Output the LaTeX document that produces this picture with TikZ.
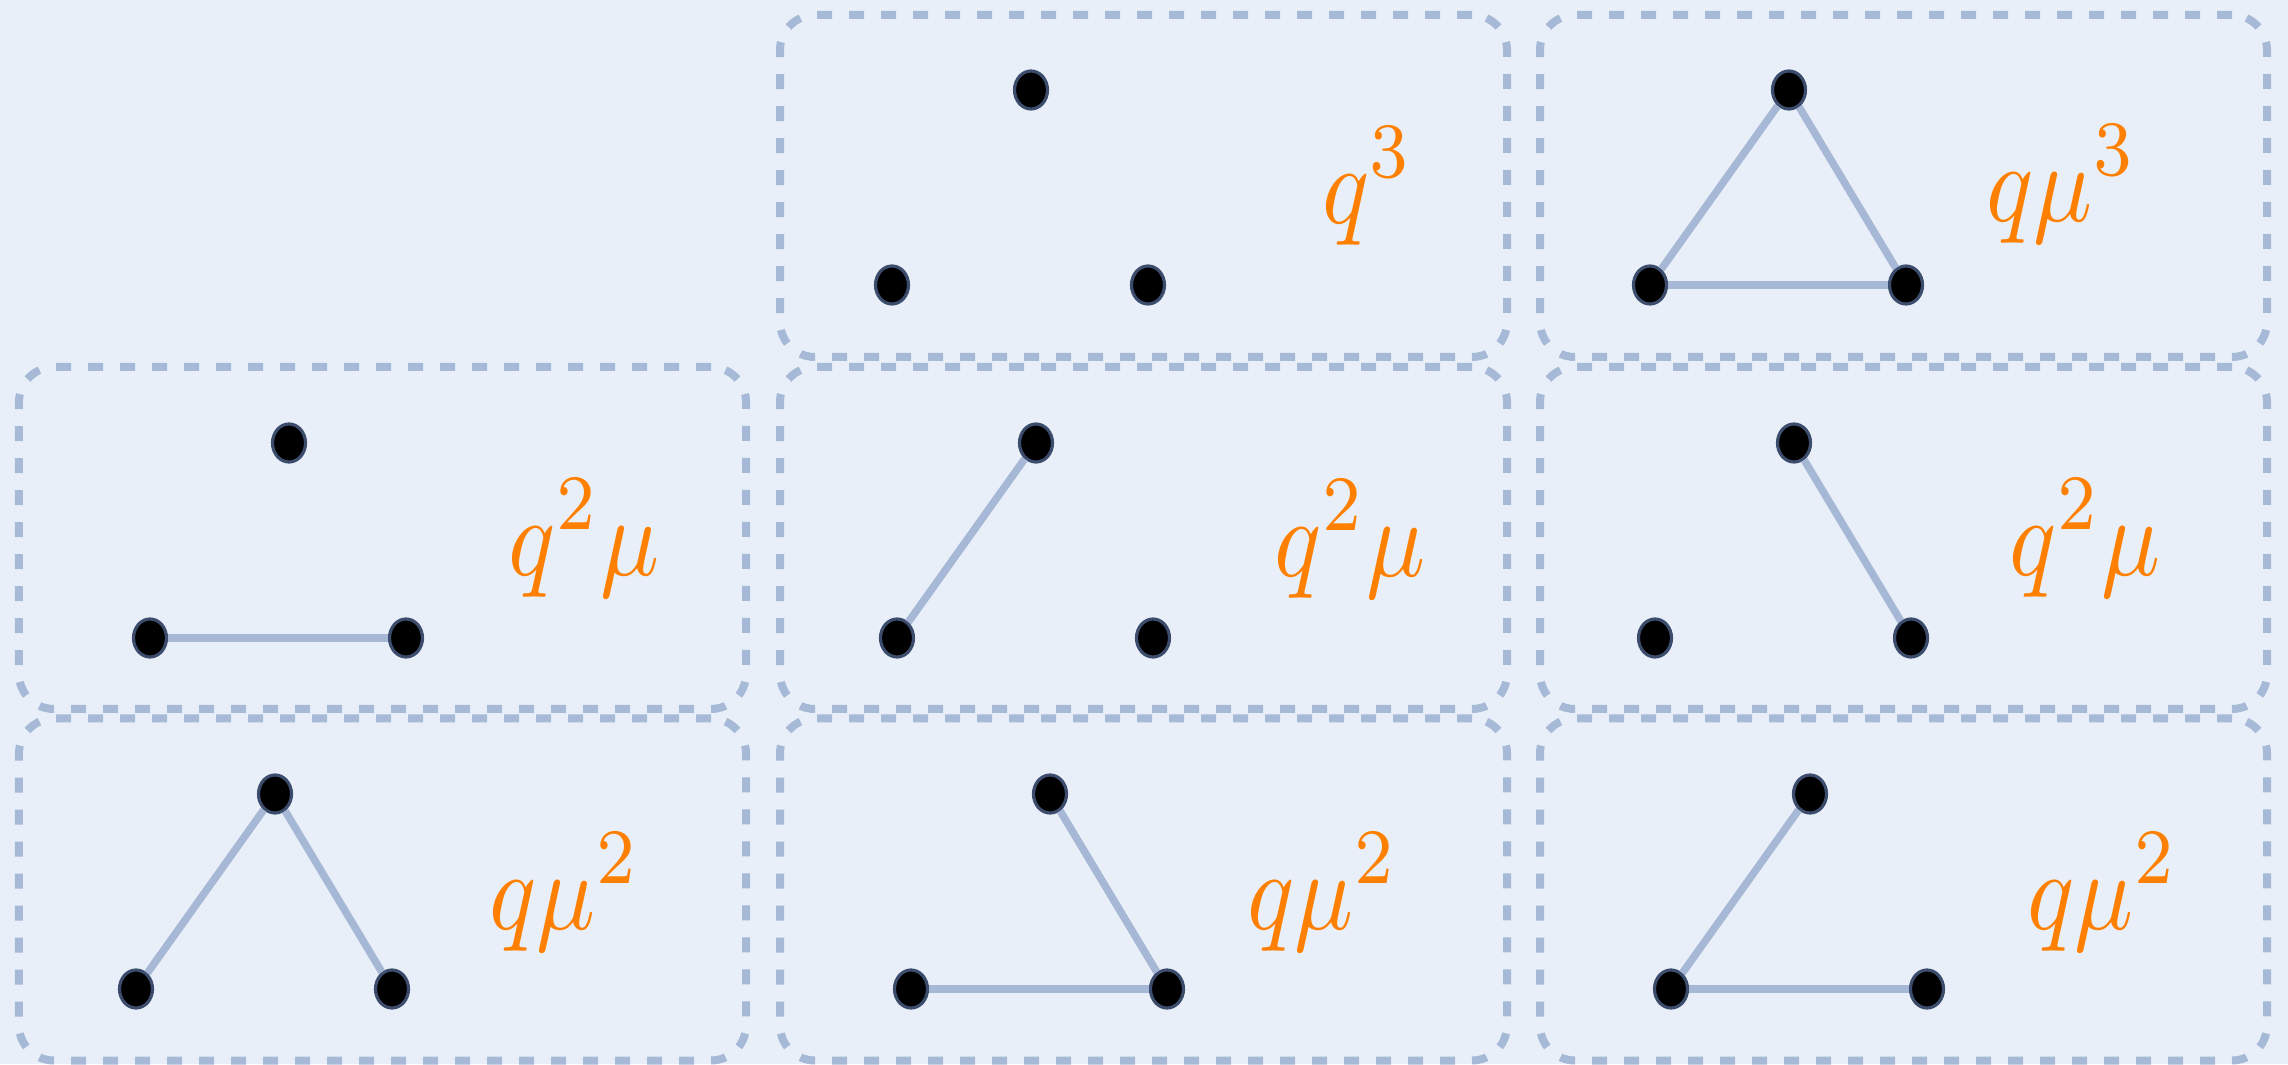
\documentclass[tikz,border=0pt]{standalone}
\usepackage{amsmath}
\usepackage{graphicx}
\usetikzlibrary{positioning, shapes.geometric}
\definecolor{paper}{HTML}{E8EFF8}
\definecolor{frame}{HTML}{A6B9D6}
\definecolor{link}{HTML}{A6B8D5}
\definecolor{rim}{HTML}{3C4C6C}
\definecolor{weightcol}{HTML}{FF8000}
\newcommand{\wlabel}[1]{\scalebox{2.79}[3.19]{$\displaystyle #1$}}

\begin{document}
\begin{tikzpicture}[
  on grid,
  panel/.style={rectangle, draw=frame, line width=0.08cm, dash pattern=on 0.15cm off 0.17cm, rounded corners=0.35cm, minimum width=7.27cm, minimum height=3.42cm},
  dot/.style={ellipse, fill=black, draw=rim, line width=0.9pt, minimum width=0.33cm, minimum height=0.38cm, inner sep=0pt},
  edge/.style={draw=link, line width=0.075cm},
  weight/.style={text=weightcol, inner sep=0pt}
]
  % paper
  \fill[paper] (0,0) rectangle (22.88,10.64);

  % panels
  \node[panel] (p12) at (11.435,8.78) {};
  \node[panel, right=7.6cm of p12] (p13) {};
  \node[panel, below=3.52cm of p12] (p22) {};
  \node[panel, left=7.61cm of p22] (p21) {};
  \node[panel, right=7.6cm of p22] (p23) {};
  \node[panel, below=3.515cm of p21] (p31) {};
  \node[panel, below=3.515cm of p22] (p32) {};
  \node[panel, below=3.515cm of p23] (p33) {};

  % row 1
  \node[dot] (t12) at (10.31,9.74) {};
  \node[dot, below left=1.95cm and 1.39cm of t12] (l12) {};
  \node[dot, below right=1.95cm and 1.17cm of t12] (r12) {};
  \node[weight] (w12) at (13.68,8.78) {\wlabel{q^3}};

  \node[dot] (t13) at (17.89,9.74) {};
  \node[dot, below left=1.95cm and 1.39cm of t13] (l13) {};
  \node[dot, below right=1.95cm and 1.17cm of t13] (r13) {};
  \node[weight] (w13) at (20.62,8.80) {\wlabel{q\mu^3}};
  \draw[edge] (t13) -- (l13);
  \draw[edge] (t13) -- (r13);
  \draw[edge] (l13) -- (r13);

  % row 2
  \node[dot] (t21) at (2.89,6.21) {};
  \node[dot, below left=1.95cm and 1.39cm of t21] (l21) {};
  \node[dot, below right=1.95cm and 1.17cm of t21] (r21) {};
  \node[weight] (w21) at (5.84,5.26) {\wlabel{q^2\mu}};
  \draw[edge] (l21) -- (r21);

  \node[dot] (t22) at (10.36,6.21) {};
  \node[dot, below left=1.95cm and 1.39cm of t22] (l22) {};
  \node[dot, below right=1.95cm and 1.17cm of t22] (r22) {};
  \node[weight] (w22) at (13.50,5.25) {\wlabel{q^2\mu}};
  \draw[edge] (l22) -- (t22);

  \node[dot] (t23) at (17.94,6.21) {};
  \node[dot, below left=1.95cm and 1.39cm of t23] (l23) {};
  \node[dot, below right=1.95cm and 1.17cm of t23] (r23) {};
  \node[weight] (w23) at (20.85,5.26) {\wlabel{q^2\mu}};
  \draw[edge] (t23) -- (r23);

  % row 3
  \node[dot] (t31) at (2.75,2.70) {};
  \node[dot, below left=1.95cm and 1.39cm of t31] (l31) {};
  \node[dot, below right=1.95cm and 1.17cm of t31] (r31) {};
  \node[weight] (w31) at (5.65,1.72) {\wlabel{q\mu^2}};
  \draw[edge] (t31) -- (l31);
  \draw[edge] (t31) -- (r31);

  \node[dot] (t32) at (10.50,2.70) {};
  \node[dot, below left=1.95cm and 1.39cm of t32] (l32) {};
  \node[dot, below right=1.95cm and 1.17cm of t32] (r32) {};
  \node[weight] (w32) at (13.23,1.72) {\wlabel{q\mu^2}};
  \draw[edge] (t32) -- (r32);
  \draw[edge] (l32) -- (r32);

  \node[dot] (t33) at (18.10,2.70) {};
  \node[dot, below left=1.95cm and 1.39cm of t33] (l33) {};
  \node[dot, below right=1.95cm and 1.17cm of t33] (r33) {};
  \node[weight] (w33) at (21.03,1.72) {\wlabel{q\mu^2}};
  \draw[edge] (t33) -- (l33);
  \draw[edge] (l33) -- (r33);
\end{tikzpicture}
\end{document}
